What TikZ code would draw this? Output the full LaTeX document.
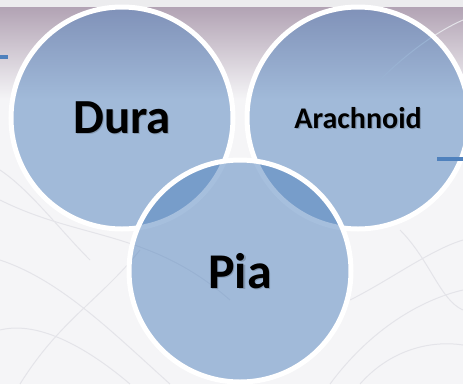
\documentclass[tikz,border=0pt]{standalone}
\usepackage{fontspec}
\setmainfont{Carlito}
\definecolor{bgc}{HTML}{F5F5F7}
\definecolor{topc}{HTML}{B2A3B4}
\definecolor{bandc}{HTML}{ECECEE}
\definecolor{acc}{HTML}{4F81BD}
\definecolor{texc}{HTML}{E4E4E9}
\begin{document}
\begin{tikzpicture}[x=1pt,y=-1pt,
  ring/.style={circle,minimum size=222pt,inner sep=0pt,fill=acc,fill opacity=0.5,draw=white,draw opacity=1,line width=5pt},
  lbl/.style={font=\bfseries,text=black,text opacity=1},
  shd/.style={font=\bfseries,text=black,text opacity=0.18},
  tick/.style={draw=acc,line width=4pt}]
\useasboundingbox (0,0) rectangle (463,384);
\fill[bgc] (0,0) rectangle (463,384);
\shade[top color=topc,bottom color=bgc] (0,7) rectangle (463,100);
\fill[bandc] (0,0) rectangle (463,7);
% faint texture
\begin{scope}[draw=texc,line width=1pt]
\draw (0,200) .. controls (80,240) and (150,230) .. (230,300);
\draw (0,260) .. controls (60,280) and (110,330) .. (170,384);
\draw (20,384) .. controls (60,320) and (100,300) .. (140,250);
\draw (0,330) .. controls (40,320) and (90,350) .. (130,384);
\draw (330,384) .. controls (370,330) and (420,300) .. (463,290);
\draw (360,384) .. controls (390,350) and (430,340) .. (463,345);
\draw (400,230) .. controls (430,260) and (440,300) .. (463,310);
\draw (350,300) .. controls (390,280) and (430,250) .. (463,240);
\draw (0,170) .. controls (30,190) and (60,230) .. (90,260);
\draw (380,80) .. controls (410,50) and (440,30) .. (463,20);
\end{scope}
\node[ring] (dura) at (122,118) {};
\node[ring] (arach) at (358,118) {};
\node[ring] (pia) at (240,271) {};
\node[shd,font=\bfseries\fontsize{49}{49}\selectfont] at ([shift={(1.2,1.2)}]dura.center) {Dura};
\node[lbl,font=\bfseries\fontsize{49}{49}\selectfont] (tdura) at (dura.center) {Dura};
\node[shd,font=\bfseries\fontsize{30}{30}\selectfont] at ([shift={(1.2,1.2)}]arach.center) {Arachnoid};
\node[lbl,font=\bfseries\fontsize{30}{30}\selectfont] (tarach) at (arach.center) {Arachnoid};
\node[shd,font=\bfseries\fontsize{50}{50}\selectfont] at ([shift={(1.2,1.2)}]pia.center) {Pia};
\node[lbl,font=\bfseries\fontsize{50}{50}\selectfont] (tpia) at (pia.center) {Pia};
\coordinate (l0) at (0,57); \coordinate (l1) at (8,57);
\coordinate (r0) at (437,159); \coordinate (r1) at (463,159);
\draw[tick] (l0) -- (l1);
\draw[tick] (r0) -- (r1);
\end{tikzpicture}
\end{document}
